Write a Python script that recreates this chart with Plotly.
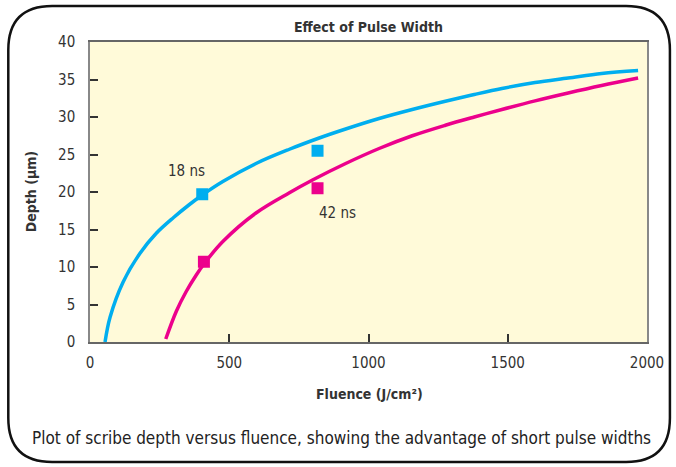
import plotly.graph_objects as go

# Curve data
fluence_18 = [54, 72, 119, 179, 238, 300, 356, 403, 477, 596, 716, 823, 918, 1038, 1157, 1276, 1380, 1479, 1598, 1717, 1837, 1968]
depth_18 = [0, 3.3, 8.0, 11.8, 14.5, 16.6, 18.3, 19.6, 21.4, 23.8, 25.7, 27.2, 28.4, 29.8, 31.0, 32.1, 33.0, 33.8, 34.6, 35.2, 35.8, 36.2]

fluence_42 = [272, 310, 345, 381, 409, 477, 596, 716, 799, 918, 1038, 1157, 1276, 1380, 1479, 1598, 1717, 1837, 1968]
depth_42 = [0.4, 4.1, 6.7, 8.9, 10.4, 13.4, 17.2, 19.9, 21.6, 23.8, 25.8, 27.5, 28.9, 30.0, 31.0, 32.15, 33.2, 34.2, 35.2]

# Measured points
pts_18_x = [403, 817]
pts_18_y = [19.7, 25.5]
pts_42_x = [409, 817]
pts_42_y = [10.7, 20.5]

x_ticks = [0, 500, 1000, 1500, 2000]
y_ticks = [0, 5, 10, 15, 20, 25, 30, 35, 40]

BLUE = "#00AEEF"
PINK = "#EC008C"
FONT = "Liberation Sans Narrow, DejaVu Sans Condensed, Arial Narrow, sans-serif"

W, H = 676, 467
L, R, T, B = 90, 649, 42, 342


def px(x):
    return (x - L) / (R - L)


def py(y):
    return (B - y) / (B - T)


fig = go.Figure()
fig.add_trace(go.Scatter(x=fluence_18, y=depth_18, mode="lines", line=dict(color=BLUE, width=3.5, shape="spline"), hoverinfo="skip"))
fig.add_trace(go.Scatter(x=fluence_42, y=depth_42, mode="lines", line=dict(color=PINK, width=3.5, shape="spline"), hoverinfo="skip"))
fig.add_trace(go.Scatter(x=pts_18_x, y=pts_18_y, mode="markers", marker=dict(symbol="square", size=12, color=BLUE)))
fig.add_trace(go.Scatter(x=pts_42_x, y=pts_42_y, mode="markers", marker=dict(symbol="square", size=12, color=PINK)))

# Outer rounded frame
x0, x1, y0, y1, r = 8, 672, 6, 462, 44
pts = [
    ("M", [(x0 + r, y0)]),
    ("L", [(x1 - r, y0)]),
    ("Q", [(x1, y0), (x1, y0 + r)]),
    ("L", [(x1, y1 - r)]),
    ("Q", [(x1, y1), (x1 - r, y1)]),
    ("L", [(x0 + r, y1)]),
    ("Q", [(x0, y1), (x0, y1 - r)]),
    ("L", [(x0, y0 + r)]),
    ("Q", [(x0, y0), (x0 + r, y0)]),
]
path = ""
for cmd, cs in pts:
    path += cmd + " ".join(f"{px(a):.5f},{py(b):.5f}" for a, b in cs) + " "
path += "Z"
fig.add_shape(type="path", path=path, xref="paper", yref="paper", line=dict(color="#111", width=2.5), layer="above")

ann_font = dict(family=FONT, size=15, color="#333")
fig.add_annotation(x=347, y=22.75, text="18 ns", showarrow=False, font=ann_font)
fig.add_annotation(x=887, y=17.2, text="42 ns", showarrow=False, font=ann_font)


def paper_text(x, y, text, size, color="#333", angle=0, xanchor="center"):
    fig.add_annotation(x=px(x), y=py(y), xref="paper", yref="paper", text=text, textangle=angle,
                       xanchor=xanchor, yanchor="middle", showarrow=False,
                       font=dict(family=FONT, size=size, color=color))


paper_text(370, 27, "<b>Effect of Pulse Width</b>", 14)
paper_text(31, 192, "<b>Depth (µm)</b>", 14, angle=-90)
paper_text(371, 394, "<b>Fluence (J/cm²)</b>", 14)
paper_text(30, 438, "Plot of scribe depth versus fluence, showing the advantage of short pulse widths", 17,
           color="#222", xanchor="left")

fig.update_layout(
    width=W, height=H,
    margin=dict(l=L, r=W - R, t=T, b=H - B),
    paper_bgcolor="white",
    plot_bgcolor="#FFFAD9",
    showlegend=False,
    font=dict(family=FONT, size=15, color="#333"),
)
fig.update_xaxes(range=[0, 2000], tickvals=x_ticks, ticks="inside", ticklen=8, tickwidth=2, tickcolor="#333",
                 showgrid=False, zeroline=False, showline=True, linecolor="#666", linewidth=1.5, mirror=True,
                 ticklabelstandoff=6, tickfont=dict(size=15, color="#333"))
fig.update_yaxes(range=[0, 40], tickvals=y_ticks, ticks="inside", ticklen=8, tickwidth=2, tickcolor="#333",
                 showgrid=False, zeroline=False, showline=True, linecolor="#888", linewidth=1.5, mirror=True,
                 ticklabelstandoff=10, tickfont=dict(size=15, color="#333"))

fig.write_html("out.html", config={"displayModeBar": False}, post_script="document.body.style.margin='0';")
